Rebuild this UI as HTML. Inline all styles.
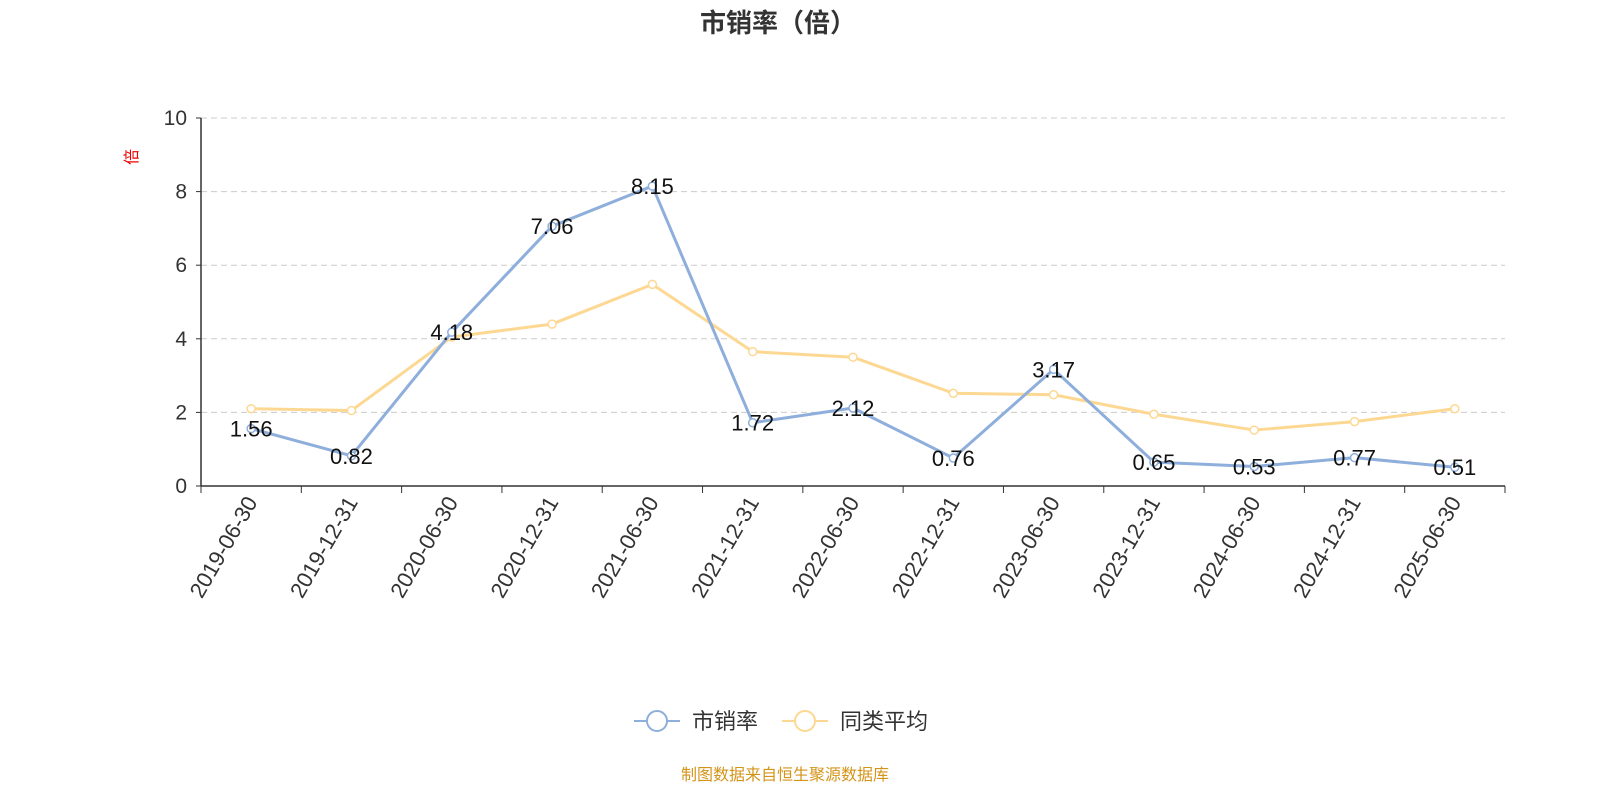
<!DOCTYPE html>
<html><head><meta charset="utf-8"><style>
html,body{margin:0;padding:0;background:#fff;width:1600px;height:800px;overflow:hidden;font-family:"Liberation Sans","Noto Sans CJK SC",sans-serif;}
svg{display:block;}
</style></head><body>
<svg id="chart" width="1600" height="800" viewBox="0 0 1600 800" xmlns="http://www.w3.org/2000/svg" font-family="Liberation Sans, Noto Sans CJK SC, sans-serif">
<text x="778" y="32" text-anchor="middle" font-size="26" font-weight="bold" fill="#333">市销率（倍）</text>
<text transform="translate(137,157) rotate(-90)" text-anchor="middle" font-size="16" fill="#e00">倍</text>
<g id="grid"></g><g id="axes"></g><g id="series"></g>
<g>
<line x1="634" y1="721" x2="680" y2="721" stroke="#8eaedb" stroke-width="2"/><circle cx="657" cy="721" r="10" fill="#fff" stroke="#8eaedb" stroke-width="2"/>
<text x="692" y="729" font-size="22" fill="#333">市销率</text>
<line x1="782" y1="721" x2="828" y2="721" stroke="#fdd893" stroke-width="2"/><circle cx="805" cy="721" r="10" fill="#fff" stroke="#fdd893" stroke-width="2"/>
<text x="840" y="729" font-size="22" fill="#333">同类平均</text>
</g>
<text x="785" y="780" text-anchor="middle" font-size="16" fill="#d4941a">制图数据来自恒生聚源数据库</text>
</svg>
<script>
const categories=["2019-06-30","2019-12-31","2020-06-30","2020-12-31","2021-06-30","2021-12-31","2022-06-30","2022-12-31","2023-06-30","2023-12-31","2024-06-30","2024-12-31","2025-06-30"];
const psrValues=[1.56,0.82,4.18,7.06,8.15,1.72,2.12,0.76,3.17,0.65,0.53,0.77,0.51];
const peerAvgValues=[2.1,2.05,4.05,4.4,5.48,3.65,3.5,2.52,2.48,1.95,1.52,1.75,2.1];
const yTicks=[0,2,4,6,8,10];
const NS="http://www.w3.org/2000/svg";
const x0=201,x1=1505,y0=486,y1=118,yMax=10;
const band=(x1-x0)/categories.length;
const xs=i=>x0+band*(i+0.5);
const ys=v=>y0-(v/yMax)*(y0-y1);
function mk(tag,attrs,parent,text){const e=document.createElementNS(NS,tag);for(const k in attrs)e.setAttribute(k,attrs[k]);if(text!==undefined)e.textContent=text;document.getElementById(parent).appendChild(e);return e;}
yTicks.forEach(t=>{
 if(t>0){const g=mk('line',{x1:x0,x2:x1,y1:ys(t),y2:ys(t),stroke:'#ccc','stroke-dasharray':'6,4'},'grid');
 
 }
 const l=mk('text',{x:x0-14,y:ys(t)+7,'text-anchor':'end','font-size':21,fill:'#333'},'axes',t);
 
 
 const tk=mk('line',{x1:x0-5,x2:x0,y1:ys(t),y2:ys(t),stroke:'#333'},'axes');
 
 
});
const ya=mk('line',{x1:x0,x2:x0,y1:y1,y2:y0,stroke:'#333','stroke-width':1.5},'axes');


const xa=mk('line',{x1:x0,x2:x1,y1:y0,y2:y0,stroke:'#333','stroke-width':1.5},'axes');


for(let i=0;i<=categories.length;i++){const tk=mk('line',{x1:x0+band*i,x2:x0+band*i,y1:y0,y2:y0+7,stroke:'#333'},'axes');
 
 }
categories.forEach((c,i)=>{const t=mk('text',{transform:`translate(${xs(i)+7},${y0+16}) rotate(-60)`,'text-anchor':'end','font-size':22,fill:'#333'},'axes',c);
 
 });
function series(vals,color,name,labels){
 const p=mk('polyline',{points:vals.map((v,i)=>xs(i)+','+ys(v)).join(' '),fill:'none',stroke:color,'stroke-width':3,'stroke-linejoin':'round'},'series');
 
 
 vals.forEach((v,i)=>{const c=mk('circle',{cx:xs(i),cy:ys(v),r:4,fill:'#fff',stroke:color,'stroke-width':1.5},'series');
  
  
  if(labels){const t=mk('text',{x:xs(i),y:ys(v)+8,'text-anchor':'middle','font-size':22,fill:'#111'},'series',v.toFixed(2));
  
  }});
}
series(peerAvgValues,'#fdd893','peer-avg',false);
series(psrValues,'#8eaedb','psr',true);
</script>
</body></html>
